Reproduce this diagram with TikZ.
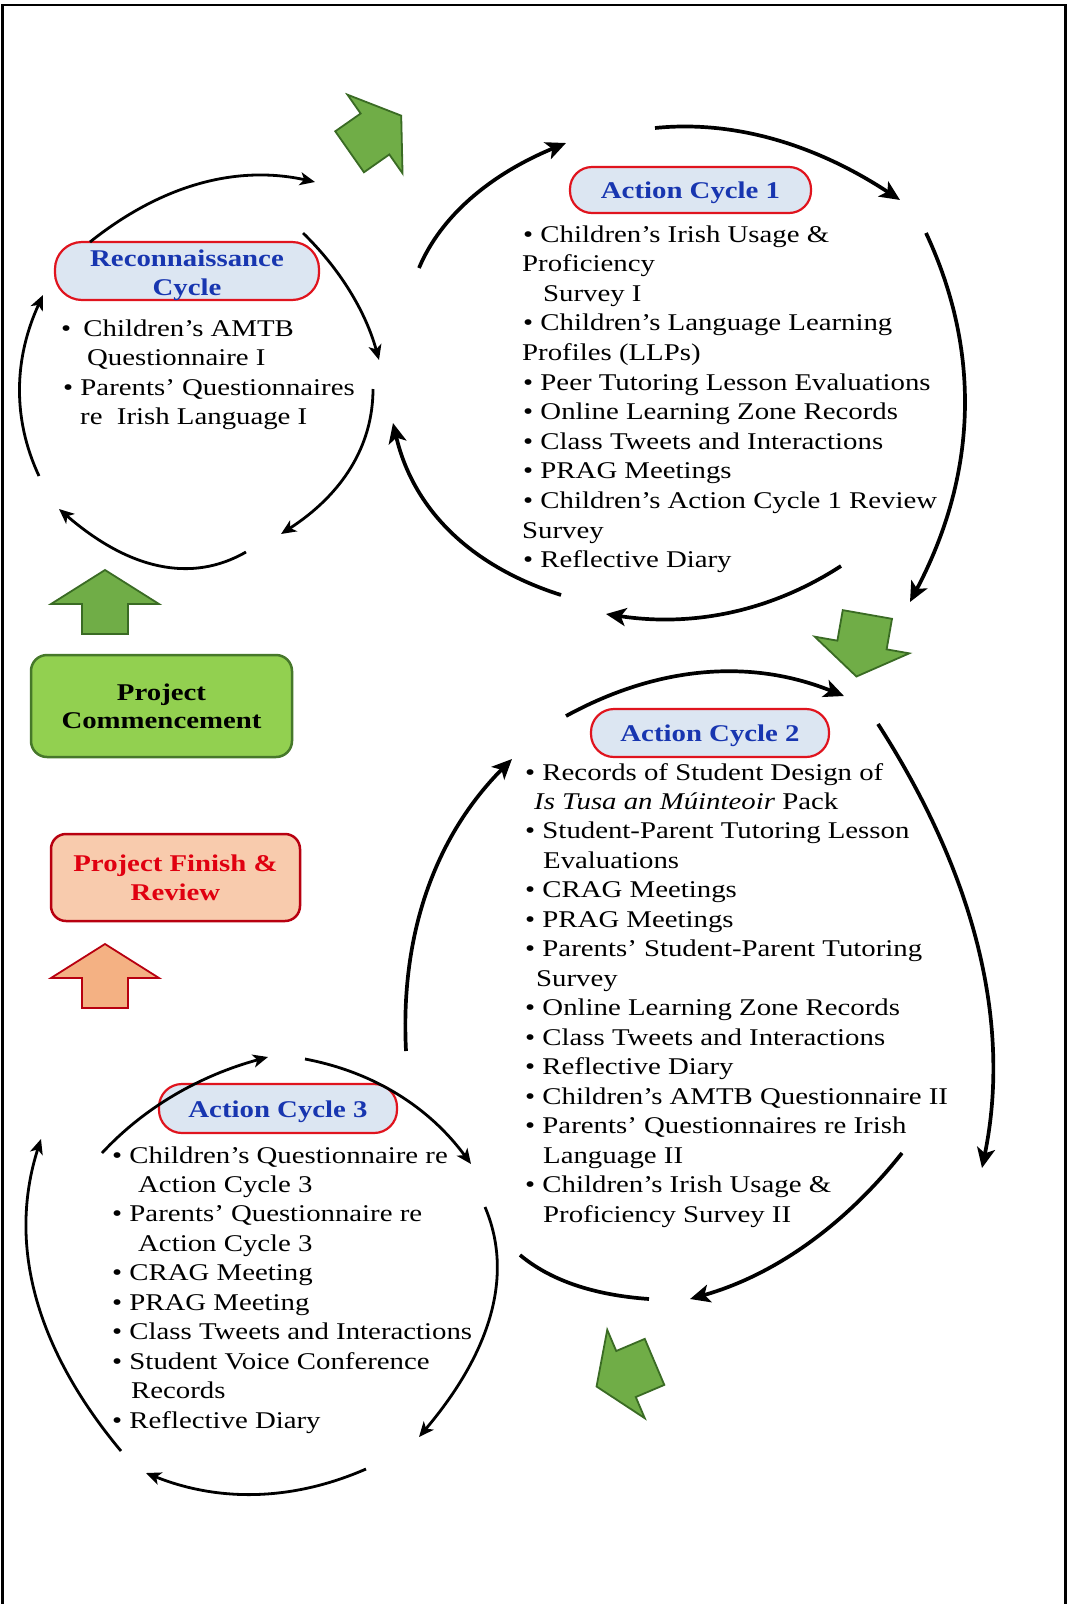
\documentclass[tikz,border=0pt]{standalone}
\usepackage{fontspec}
\setmainfont[FakeStretch=1.2]{Liberation Serif}
\usetikzlibrary{arrows.meta}
\definecolor{lblfill}{HTML}{DCE6F2}
\definecolor{lblred}{HTML}{E0141E}
\definecolor{lblblue}{HTML}{1836B0}
\definecolor{garrfill}{HTML}{70AD47}
\definecolor{garrdraw}{HTML}{3A6B24}
\definecolor{commfill}{HTML}{92D050}
\definecolor{commdraw}{HTML}{46782A}
\definecolor{oarrfill}{HTML}{F4B183}
\definecolor{finfill}{HTML}{F8CBAD}
\definecolor{findraw}{HTML}{B80010}
\definecolor{fintext}{HTML}{E00010}
\begin{document}
\begin{tikzpicture}[x=1pt,y=-1pt,
  every node/.style={inner sep=0pt,font=\fontsize{24}{29.5}\selectfont},
  listtext/.style={anchor=base west},
  cyclabel/.style={draw=lblred,line width=2.2pt,fill=lblfill,text=lblblue,font=\fontsize{24}{29}\selectfont\bfseries,align=center,minimum width=238pt,minimum height=48pt,rounded corners=23pt,text height=17pt,text depth=0pt},
  thinarc/.style={line width=2.8pt,-{Stealth[length=15pt,width=13pt,inset=4pt]}},
  thickarc/.style={line width=3.7pt,-{Stealth[length=20pt,width=18pt,inset=5pt]}},
  plainarc/.style={line width=3.7pt},
  greenarr/.style={fill=garrfill,draw=garrdraw,line width=1.8pt},
  orangearr/.style={fill=oarrfill,draw=findraw,line width=1.8pt},
  uparrow/.pic={\path[pic actions] (-23,30) -- (-23,0) -- (-54,0) -- (0,-34) -- (54,0) -- (23,0) -- (23,30) -- cycle;},
  tiltarrow/.pic={\path[pic actions] (-25,31) -- (-25,0) -- (-48,0) -- (0,-32) -- (48,0) -- (25,0) -- (25,31) -- cycle;}
]
\fill[white] (0,0) rectangle (1068,1604);
\useasboundingbox (0,0) rectangle (1068,1604);
\draw[line width=2.5pt] (2.5,1604) -- (2.5,5) -- (1065.5,5) -- (1065.5,1604);

% ---------- labels ----------
\node[cyclabel,minimum width=264pt,minimum height=58pt,rounded corners=27pt,text height=48pt] (recl) at (187,271) {Reconnaissance\\Cycle};
\node[cyclabel,minimum width=241pt,minimum height=46pt,rounded corners=22pt] (ac1l) at (690.5,190) {Action Cycle 1};
\node[cyclabel] (ac2l) at (710,733) {Action Cycle 2};
\node[cyclabel,minimum height=49pt] (ac3l) at (278,1108.5) {Action Cycle 3};

\node[draw=commdraw,fill=commfill,line width=2.5pt,rounded corners=16pt,minimum width=261pt,minimum height=102pt,align=center,font=\fontsize{24}{28}\selectfont\bfseries] (comm) at (161.5,706) {Project\\Commencement};
\node[draw=findraw,fill=finfill,line width=2.5pt,rounded corners=15pt,minimum width=249pt,minimum height=87pt,align=center,text=fintext,font=\fontsize{24}{29}\selectfont\bfseries,text height=46pt,text depth=0pt] (fin) at (175.5,877.5) {Project Finish \&\\Review};

% ---------- block arrows ----------
\pic[greenarr,rotate=-55] (ga1) at (375,134) {tiltarrow};
\pic[greenarr,rotate=170] (ga2) at (862,645) {tiltarrow};
\pic[greenarr,rotate=113] (ga3) at (626,1374) {tiltarrow};
\pic[greenarr] (ga4) at (105,604) {uparrow};
\pic[orangearr] (oa1) at (105,978) {uparrow};

% ---------- reconnaissance text ----------
\node[listtext] (r1) at (61,336) {•\hspace{5pt} Children’s AMTB};
\node[listtext] (r2) at (87,365) {Questionnaire I};
\node[listtext] (r3) at (63,395) {• Parents’ Questionnaires};
\node[listtext] (r4) at (80,424) {re\ \ Irish Language I};

% ---------- action cycle 1 text ----------
\node[listtext] (a1) at (523,242.0) {• Children’s Irish Usage \&};
\node[listtext] (a2) at (522,271.6) {Proficiency};
\node[listtext] (a3) at (543,301.2) {Survey I};
\node[listtext] (a4) at (523,330.8) {• Children’s Language Learning};
\node[listtext] (a5) at (522,360.4) {Profiles (LLPs)};
\node[listtext] (a6) at (523,390.0) {• Peer Tutoring Lesson Evaluations};
\node[listtext] (a7) at (523,419.6) {• Online Learning Zone Records};
\node[listtext] (a8) at (523,449.2) {• Class Tweets and Interactions};
\node[listtext] (a9) at (523,478.8) {• PRAG Meetings};
\node[listtext] (a10) at (523,508.4) {• Children’s Action Cycle 1 Review};
\node[listtext] (a11) at (522,538.0) {Survey};
\node[listtext] (a12) at (523,567.6) {• Reflective Diary};

% ---------- action cycle 2 text ----------
\node[listtext] (b1) at (525,780.0) {• Records of Student Design of};
\node[listtext] (b2) at (534,809.5) {\textit{Is Tusa an Múinteoir} Pack};
\node[listtext] (b3) at (525,838.9) {• Student-Parent Tutoring Lesson};
\node[listtext] (b4) at (543,868.4) {Evaluations};
\node[listtext] (b5) at (525,897.9) {• CRAG Meetings};
\node[listtext] (b6) at (525,927.4) {• PRAG Meetings};
\node[listtext] (b7) at (525,956.8) {• Parents’ Student-Parent Tutoring};
\node[listtext] (b8) at (536,986.3) {Survey};
\node[listtext] (b9) at (525,1015.8) {• Online Learning Zone Records};
\node[listtext] (b10) at (525,1045.2) {• Class Tweets and Interactions};
\node[listtext] (b11) at (525,1074.7) {• Reflective Diary};
\node[listtext] (b12) at (525,1104.2) {• Children’s AMTB Questionnaire II};
\node[listtext] (b13) at (525,1133.6) {• Parents’ Questionnaires re Irish};
\node[listtext] (b14) at (543,1163.1) {Language II};
\node[listtext] (b15) at (525,1192.6) {• Children’s Irish Usage \&};
\node[listtext] (b16) at (543,1222.1) {Proficiency Survey II};

% ---------- action cycle 3 text ----------
\node[listtext] (c1) at (112,1163.0) {• Children’s Questionnaire re};
\node[listtext] (c2) at (138,1192.4) {Action Cycle 3};
\node[listtext] (c3) at (112,1221.9) {• Parents’ Questionnaire re};
\node[listtext] (c4) at (138,1251.3) {Action Cycle 3};
\node[listtext] (c5) at (112,1280.8) {• CRAG Meeting};
\node[listtext] (c6) at (112,1310.2) {• PRAG Meeting};
\node[listtext] (c7) at (112,1339.6) {• Class Tweets and Interactions};
\node[listtext] (c8) at (112,1369.1) {• Student Voice Conference};
\node[listtext] (c9) at (131,1398.5) {Records};
\node[listtext] (c10) at (112,1428.0) {• Reflective Diary};

% ---------- reconnaissance cycle arcs ----------
\draw[thinarc] (90,242) .. controls (161.7,184.7) and (236.7,164.7) .. (315,182);
\draw[thinarc] (303,233) .. controls (340.3,269.3) and (365.7,311.7) .. (379,360);
\draw[thinarc] (373,389) .. controls (373,446) and (342.3,494.3) .. (281,534);
\draw[thinarc] (246,552) .. controls (191,583.7) and (128.7,569.3) .. (59,509);
\draw[thinarc] (39,476) .. controls (12.3,419) and (13.7,358.7) .. (43,295);

% ---------- action cycle 1 arcs ----------
\draw[thickarc] (419,268) .. controls (440.7,216.3) and (489.7,174.7) .. (566,143);
\draw[thickarc] (655,128) .. controls (733.3,120) and (815,144) .. (900,200);
\draw[thickarc] (926,233) .. controls (982,352.7) and (976.7,475.7) .. (910,602);
\draw[thickarc] (841,566) .. controls (771.3,611.3) and (693,627.3) .. (606,614);
\draw[thickarc] (561,595) .. controls (469,565.7) and (413,508.3) .. (393,423);

% ---------- action cycle 2 arcs ----------
\draw[thickarc] (566,716) .. controls (658.7,665.3) and (751.3,658.7) .. (844,696);
\draw[thickarc] (878,724) .. controls (976.7,877.3) and (1011.3,1025.3) .. (982,1168);
\draw[thickarc] (902,1153) .. controls (843.3,1227) and (772.7,1275.7) .. (690,1299);
\draw[plainarc] (520,1255) .. controls (550.3,1280.3) and (593.3,1295) .. (649,1299);
\draw[thickarc] (406,1051) .. controls (400,933.7) and (435.3,836.3) .. (512,759);

% ---------- action cycle 3 arcs ----------
\draw[thinarc] (102,1153) .. controls (144,1107.7) and (199.3,1075.7) .. (268,1057);
\draw[thinarc] (305,1059) .. controls (373.7,1072) and (429,1107) .. (471,1164);
\draw[thinarc] (485,1207) .. controls (513.7,1274.3) and (491.7,1351) .. (419,1437);
\draw[thinarc] (366,1469) .. controls (292.7,1501) and (219.3,1502.3) .. (146,1473);
\draw[thinarc] (121,1451) .. controls (34.3,1347) and (7.7,1243) .. (41,1139);
\end{tikzpicture}
\end{document}
